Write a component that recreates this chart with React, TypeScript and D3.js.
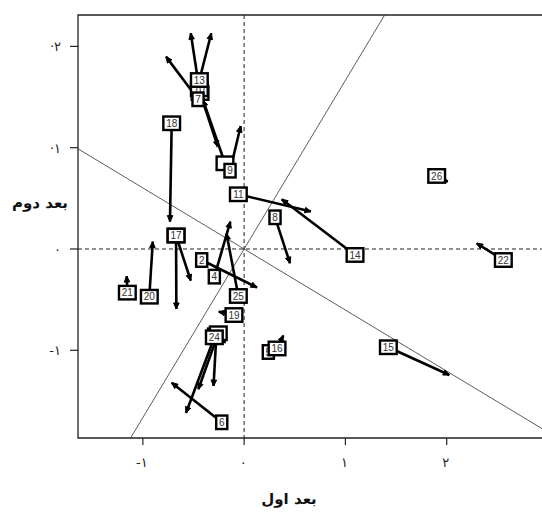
import React from "react";
import * as d3 from "d3";

// box labels, in drawing order (boxes hidden behind others carry no readable text)
const labels = ["", "10", "7", "13", "", "9", "18", "", "17", "20", "21", "2", "4", "25", "19", "", "", "24", "6", "11", "14", "8", "26", "22", "15", "5", "16"];
// point positions (first configuration)
const dim1 = [-0.435, -0.442, -0.455, -0.442, -0.189, -0.139, -0.715, -0.672, -0.672, -0.936, -1.153, -0.419, -0.294, -0.057, -0.1, -0.274, -0.255, -0.294, -0.221, -0.057, 1.095, 0.305, 1.901, 2.559, 1.424, 0.239, 0.325];
const dim2 = [1.54, 1.577, 1.478, 1.668, 0.846, 0.773, 1.241, 0.133, 0.133, -0.471, -0.431, -0.109, -0.273, -0.464, -0.652, -0.852, -0.832, -0.872, -1.711, 0.54, -0.059, 0.313, 0.721, -0.109, -0.97, -1.017, -0.982];
// arrow targets (second configuration)
const end1 = [-0.258, -0.527, -0.771, -0.324, -0.406, -0.034, -0.732, -0.527, -0.669, -0.902, -1.159, 0.127, -0.136, -0.174, -0.251, -0.302, -0.452, -0.574, -0.715, 0.66, 0.371, 0.453, 2.01, 2.296, 2.026, 0.275, 0.387];
const end2 = [1.007, 2.13, 1.899, 2.13, 1.471, 1.214, 0.27, -0.313, -0.592, 0.072, -0.267, -0.38, 0.27, 0.153, -0.619, -1.353, -1.385, -1.619, -1.32, 0.37, 0.491, -0.141, 0.664, 0.056, -1.244, -0.958, -0.854];

const xTicks = [-1, 0, 1, 2, 3];
const xTickLabels = ["-۱", "۰", "۱", "۲", "۳"];
const yTicks = [-1, 0, 1, 2];
const yTickLabels = ["-۱", "۰", "·۱", "·۲"];
const slopes = [1.665, -0.603];

const W = 542;
const H = 514;
const left = 78, right = 548, top = 15, bottom = 438;

export default function App() {
  const x = d3.scaleLinear().domain([-1.64, 3.0]).range([left, right]);
  const y = d3.scaleLinear().domain([-1.866, 2.31]).range([bottom, top]);

  const pts = labels.map((l, i) => ({
    label: l,
    x0: x(dim1[i]), y0: y(dim2[i]),
    x1: x(end1[i]), y1: y(end2[i]),
  }));

  const head = (p: any) => {
    const ang = Math.atan2(p.y1 - p.y0, p.x1 - p.x0);
    const len = 6, hw = 2.8;
    const bx = p.x1 - len * Math.cos(ang), by = p.y1 - len * Math.sin(ang);
    const nx = -Math.sin(ang) * hw, ny = Math.cos(ang) * hw;
    return `M${p.x1},${p.y1}L${bx + nx},${by + ny}L${bx - nx},${by - ny}Z`;
  };

  return (
    <svg width={W} height={H} style={{ position: "absolute", left: 0, top: 0, background: "#fff" }}>
      <defs>
        <clipPath id="plot">
          <rect x={left} y={top} width={right - left} height={bottom - top} />
        </clipPath>
      </defs>

      {/* box */}
      <path d={`M${left},${bottom}L${left},${top}L${right},${top}L${right},${bottom}Z`} fill="none" stroke="#222" strokeWidth={1.3} />

      {/* ticks */}
      {xTicks.map((t, i) => (
        <g key={"xt" + t}>
          <line x1={x(t)} x2={x(t)} y1={bottom} y2={bottom + 7} stroke="#222" strokeWidth={1.2} />
          <text x={x(t) - 1} y={bottom + 29} textAnchor="middle" fontFamily="DejaVu Sans" fontSize={13} fill="#222">{xTickLabels[i]}</text>
        </g>
      ))}
      {yTicks.map((t, i) => (
        <g key={"yt" + t}>
          <line x1={left - 8} x2={left} y1={y(t)} y2={y(t)} stroke="#222" strokeWidth={1.2} />
          <text x={61} y={y(t) + 5} textAnchor="end" fontFamily="DejaVu Sans" fontSize={13} fill="#222">{yTickLabels[i]}</text>
        </g>
      ))}

      <g clipPath="url(#plot)">
        {/* reference lines */}
        <line x1={x(0)} x2={x(0)} y1={top} y2={bottom} stroke="#222" strokeWidth={1} strokeDasharray="4,3" />
        <line x1={left} x2={right} y1={y(0)} y2={y(0)} stroke="#222" strokeWidth={1} strokeDasharray="4,3" />
        {slopes.map((s) => (
          <line key={s} x1={x(-1.64)} y1={y(-1.64 * s)} x2={x(3)} y2={y(3 * s)} stroke="#333" strokeWidth={0.8} />
        ))}

        {/* arrows */}
        {pts.map((p, i) => (
          <g key={"a" + i}>
            <line x1={p.x0} y1={p.y0} x2={p.x1} y2={p.y1} stroke="#000" strokeWidth={2.6} />
            <path d={head(p)} fill="#000" stroke="#000" strokeWidth={1} />
          </g>
        ))}

        {/* labelled boxes */}
        {pts.map((p, i) => {
          const w = (p.label.length || 2) * 5.6 + 5.5;
          const h = 13.5;
          return (
            <g key={"b" + i}>
              <rect x={p.x0 - w / 2} y={p.y0 - h / 2} width={w} height={h} fill="#fff" stroke="#000" strokeWidth={2.4} />
              {p.label && (
                <text x={p.x0} y={p.y0 + 3.7} textAnchor="middle" fontFamily="Liberation Sans, Arial, sans-serif" fontSize={10} fill="#333">{p.label}</text>
              )}
            </g>
          );
        })}
      </g>

      {/* axis titles */}
      <text x={40} y={208} textAnchor="middle" fontFamily="DejaVu Sans" fontWeight="bold" fontSize={15} fill="#111">بعد دوم</text>
      <text x={289} y={504} textAnchor="middle" fontFamily="DejaVu Sans" fontWeight="bold" fontSize={15} fill="#111">بعد اول</text>
    </svg>
  );
}
